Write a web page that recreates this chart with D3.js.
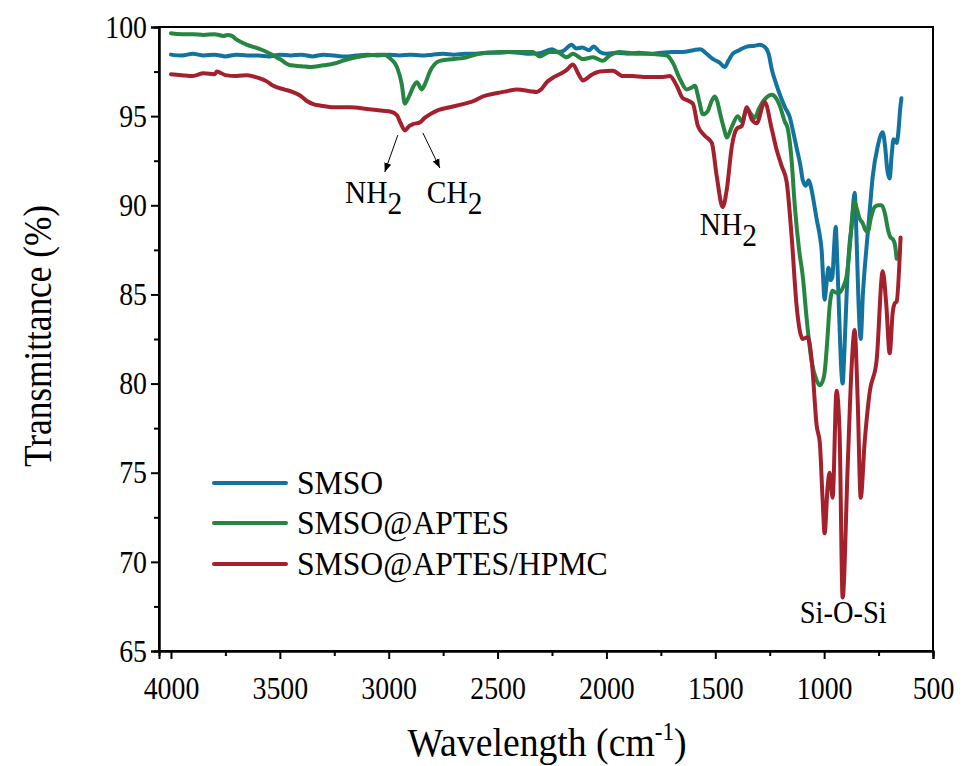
<!DOCTYPE html>
<html><head><meta charset="utf-8">
<script src="https://cdn.jsdelivr.net/npm/d3@7"></script>
<style>body{margin:0;background:#fff}svg{display:block}text{font-family:"Times New Roman",Times,"Liberation Serif",serif !important;fill:#000}</style>
</head><body><svg id="c" width="963" height="766"></svg>
<script>
// ---- data ----
const xTicks = [4000,3500,3000,2500,2000,1500,1000,500];
const xMinor = [3750,3250,2750,2250,1750,1250,750];
const yTicks = [65,70,75,80,85,90,95,100];
const yMinor = [67.5,72.5,77.5,82.5,87.5,92.5,97.5];
const seriesNames = ["SMSO","SMSO@APTES","SMSO@APTES/HPMC"];
const seriesColors = ["#12739f","#268540","#a5202d"];

const smsoWn = [4000,3950,3900,3850,3800,3750,3700,3650,3600,3550,3500,3450,3400,3350,3300,3250,3200,3150,3100,3050,3000,2950,2900,2850,2800,2750,2700,2650,2600,2550,2500,2450,2400,2350,2300,2250,2220,2200,2160,2140,2110,2080,2060,2030,2000,1950,1900,1850,1800,1750,1700,1650,1600,1570,1540,1510,1480,1457,1440,1420,1390,1355,1320,1296,1270,1255,1240,1220,1200,1180,1158,1140,1126,1110,1098,1085,1071,1060,1045,1034,1020,1011,1005,998,990,980,970,962,955,947,940,930,920,915,908,895,882,874,860,852,842,832,822,805,790,777,754,731,720,710,699,690,681,667,660,650,645];
const smsoT  = [98.45,98.4,98.5,98.4,98.45,98.35,98.45,98.4,98.4,98.35,98.45,98.4,98.45,98.35,98.45,98.4,98.35,98.4,98.45,98.4,98.45,98.4,98.45,98.4,98.45,98.5,98.45,98.5,98.5,98.55,98.55,98.6,98.55,98.5,98.55,98.75,98.6,98.65,99.0,98.8,98.85,98.7,98.9,98.6,98.5,98.55,98.5,98.55,98.5,98.55,98.6,98.6,98.7,98.75,98.5,98.2,98.0,97.75,98.1,98.5,98.7,98.9,98.95,99.0,98.85,98.5,97.6,96.8,96.1,95.5,94.95,94.0,93.2,92.3,91.4,91.1,91.4,91.0,90.0,89.2,88.3,87.4,86.0,84.7,85.5,86.5,85.8,86.0,87.5,88.8,87.0,83.5,80.5,80.0,81.5,85.5,88.0,88.8,90.7,88.5,84.5,82.5,85.0,87.7,89.8,91.6,93.3,94.1,93.3,92.0,91.5,92.8,93.7,93.5,94.0,95.5,96.0];

const aptesWn = [4000,3950,3900,3850,3800,3760,3740,3720,3700,3650,3600,3560,3500,3450,3400,3360,3300,3250,3200,3150,3100,3050,3020,2990,2962,2940,2926,2915,2903,2885,2870,2848,2830,2811,2790,2765,2700,2641,2600,2550,2490,2450,2400,2338,2306,2260,2228,2182,2154,2108,2062,2017,1985,1939,1900,1850,1800,1760,1723,1695,1663,1631,1610,1594,1575,1557,1534,1515,1502,1490,1479,1460,1447,1424,1397,1378,1355,1335,1319,1300,1282,1260,1241,1220,1204,1181,1167,1150,1135,1115,1098,1080,1057,1035,1020,1005,998,985,975,961,945,929,910,897,880,870,860,850,835,823,810,800,785,768,750,736,720,708,695,685,675,667];
const aptesT  = [99.65,99.6,99.6,99.55,99.6,99.5,99.55,99.5,99.3,99.0,98.8,98.6,98.2,97.85,97.8,97.75,97.85,97.95,98.15,98.3,98.4,98.45,98.45,98.2,97.75,96.8,95.7,95.9,96.2,96.7,96.9,96.5,96.9,97.5,97.9,98.1,98.2,98.3,98.45,98.55,98.6,98.6,98.6,98.6,98.35,98.6,98.6,98.3,98.5,98.2,98.3,98.1,98.4,98.6,98.55,98.5,98.5,98.45,98.4,98.0,97.1,96.5,96.6,96.7,95.9,95.1,95.3,95.9,96.1,95.8,95.2,94.3,93.8,94.4,95.0,94.7,95.4,95.1,94.9,95.4,95.8,96.1,96.2,96.0,95.6,94.7,94.3,92.6,90.0,87.5,86.0,83.6,81.2,80.2,79.9,80.2,80.6,82.5,84.3,85.2,85.1,85.1,85.5,86.0,88.0,89.5,90.2,89.8,89.2,89.0,88.6,88.5,89.3,89.9,90.0,90.0,89.5,88.7,88.2,88.1,87.8,87.0];

const hpmcWn = [4000,3950,3900,3850,3800,3789,3750,3700,3650,3600,3560,3530,3480,3440,3400,3376,3340,3316,3250,3178,3100,3027,2990,2962,2945,2926,2905,2889,2857,2835,2811,2770,2719,2650,2600,2568,2500,2457,2412,2350,2320,2300,2274,2240,2200,2182,2154,2130,2108,2070,2030,1971,1925,1880,1830,1787,1740,1709,1677,1649,1640,1603,1580,1548,1516,1493,1466,1447,1424,1401,1378,1355,1332,1310,1273,1241,1218,1195,1172,1149,1126,1098,1075,1057,1034,1020,1007,998,984,975,961,943,929,915,892,874,860,846,832,814,791,759,731,715,699,685,676,667,649];
const hpmcT  = [97.35,97.3,97.25,97.4,97.35,97.5,97.3,97.25,97.3,97.15,96.95,96.7,96.5,96.35,96.1,95.85,95.65,95.6,95.5,95.5,95.4,95.3,95.25,95.05,94.6,94.2,94.45,94.55,94.65,94.9,95.1,95.35,95.5,95.7,95.9,96.1,96.3,96.4,96.5,96.4,96.35,96.5,96.9,97.2,97.45,97.6,97.9,97.4,97.0,97.3,97.5,97.55,97.25,97.25,97.2,97.2,97.2,97.25,96.7,96.0,95.95,95.7,94.45,93.9,93.5,91.6,89.9,90.9,93.3,94.3,94.45,95.5,94.8,94.6,95.8,94.3,93.1,92.2,91.3,88.2,84.3,82.5,82.6,81.3,77.6,76.7,73.5,71.6,74.2,75.0,73.6,79.6,77.2,68.0,75.3,80.9,83.0,79.1,73.6,76.7,79.5,81.3,86.3,84.5,81.7,84.0,84.5,84.6,88.2];

// ---- layout ----
const FONT = '"Times New Roman",Times,"Liberation Serif",serif';
const svg = d3.select("#c");
const L = 159, R = 933, T = 27, B = 651;
const x = d3.scaleLinear().domain([4055, 500]).range([L, R]);
const y = d3.scaleLinear().domain([65, 100]).range([B, T]);

const series = [
  {wn: smsoWn, t: smsoT},
  {wn: aptesWn, t: aptesT},
  {wn: hpmcWn, t: hpmcT}
];

// frame
svg.append("rect").attr("x", L).attr("y", T).attr("width", R - L).attr("height", B - T)
  .attr("fill", "none").attr("stroke", "#000").attr("stroke-width", 2);

// axes (labels slightly condensed, like the reference typeface)
const fs = 32, sxT = 0.87;
svg.append("g").attr("transform", `translate(0,${B})`)
  .call(d3.axisBottom(x).tickValues(xTicks).tickSize(8).tickPadding(17).tickFormat(d3.format("d")));
svg.append("g").attr("transform", `translate(0,${B})`)
  .call(d3.axisBottom(x).tickValues(xMinor).tickSize(5).tickFormat(""));
const gy = svg.append("g").attr("transform", `translate(${L},0)`)
  .call(d3.axisLeft(y).tickValues(yTicks).tickSize(8).tickPadding(4).tickFormat(d3.format("d")));
svg.append("g").attr("transform", `translate(${L},0)`)
  .call(d3.axisLeft(y).tickValues(yMinor).tickSize(5).tickFormat(""));
svg.selectAll("g").attr("font-family", FONT);
svg.selectAll(".domain").attr("stroke", "#000").attr("stroke-width", 2);
svg.selectAll(".tick line").attr("stroke", "#000").attr("stroke-width", 2);
svg.selectAll(".tick text").attr("font-family", FONT).style("font-size", fs + "px").attr("fill", "#000")
  .attr("transform", `scale(${sxT},1)`);
gy.selectAll(".tick text").attr("x", -12 / sxT);

// curves
const line = d3.line().x(d => x(d[0])).y(d => y(d[1])).curve(d3.curveMonotoneX);
svg.append("clipPath").attr("id", "clp").append("rect")
  .attr("x", L).attr("y", T).attr("width", R - L).attr("height", B - T);
series.forEach((s, i) => {
  const pts = s.wn.map((w, k) => [w, s.t[k]]);
  svg.append("path").datum(pts).attr("d", line).attr("fill", "none")
    .attr("stroke", seriesColors[i]).attr("stroke-width", 4)
    .attr("stroke-linejoin", "round").attr("stroke-linecap", "round")
    .attr("clip-path", "url(#clp)");
});

// text helper: condensed text at a point
function ctext(px, py, size, sx, anchor, extra) {
  return svg.append("text")
    .attr("transform", `translate(${px},${py})${extra || ""} scale(${sx},1)`)
    .attr("text-anchor", anchor).attr("font-family", FONT).style("font-size", size + "px");
}

// axis titles
ctext(547, 756, 41, 0.92, "middle")
  .html('Wavelength (cm<tspan dy="-16" font-size="25">-1</tspan><tspan dy="16">)</tspan>');
ctext(51, 336, 41, 0.86, "middle", " rotate(-90)").text("Transmittance (%)");

// legend
const legY = [483, 523, 564];
seriesNames.forEach((n, i) => {
  svg.append("line").attr("x1", 214).attr("x2", 286).attr("y1", legY[i]).attr("y2", legY[i])
    .attr("stroke", seriesColors[i]).attr("stroke-width", 4).attr("stroke-linecap", "round");
  ctext(297, legY[i] + 11, 33, 0.96, "start").text(n);
});

// annotations
function sub(txt, wx, ty) {
  ctext(x(wx), y(ty), 31, 0.95, "start").html(txt + '<tspan dy="11">2</tspan>');
}
sub("NH", 3201, 90.13);
sub("CH", 2825, 90.13);
sub("NH", 1571, 88.33);
ctext(x(1112), y(66.57), 32, 0.89, "start").text("Si-O-Si");

// arrows
const defs = svg.append("defs");
defs.append("marker").attr("id", "ah").attr("viewBox", "0 0 10 10").attr("refX", 10).attr("refY", 5)
  .attr("markerWidth", 9).attr("markerHeight", 9).attr("orient", "auto").attr("markerUnits", "userSpaceOnUse")
  .append("path").attr("d", "M0,1 L10,5 L0,9 Z").attr("fill", "#000");
const arrows = [[2958, 93.94, 3018, 91.87], [2843, 94.06, 2765, 92.09]];
arrows.forEach(a => {
  svg.append("line").attr("x1", x(a[0])).attr("y1", y(a[1])).attr("x2", x(a[2])).attr("y2", y(a[3]))
    .attr("stroke", "#000").attr("stroke-width", 1).attr("marker-end", "url(#ah)");
});
</script></body></html>
